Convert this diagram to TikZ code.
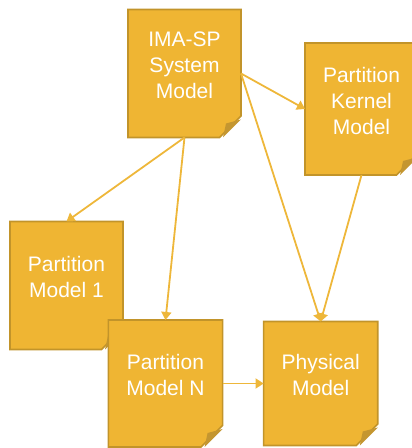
\documentclass[tikz,border=0pt]{standalone}
\usepackage{fontspec}
\setmainfont{Liberation Sans}
\usepackage{tikz}
\usetikzlibrary{calc,positioning,arrows.meta,shapes.misc}
\definecolor{notefill}{RGB}{239,181,51}
\definecolor{noteedge}{RGB}{194,148,42}
\definecolor{notefold}{RGB}{196,150,48}
\definecolor{linkcol}{RGB}{238,183,58}
\tikzset{
  line/.style={-{Triangle[length=8pt,width=10pt]}, draw=linkcol, line width=1.8pt},
  note/.style={chamfered rectangle, chamfered rectangle corners=south east,
    chamfered rectangle xsep=18pt, fill=notefill, draw=noteedge, line width=1.6pt,
    minimum width=113pt, minimum height=128pt, inner sep=0pt, outer sep=0pt,
    text=white, align=center, text depth=17pt,
    font=\fontsize{21}{26}\selectfont}
}
% folded corner of a note
\newcommand{\notefold}[1]{%
  \fill[notefold] ($(#1.south -| #1.east)+(-18pt,0)$) -- ($(#1.south -| #1.east)+(0,18pt)$)
    -- ($(#1.south -| #1.east)+(-15pt,14pt)$) -- cycle;}

\begin{document}
\begin{tikzpicture}[x=1pt,y=1pt]
  \useasboundingbox (0,0) rectangle (412,448);
  \node[note] (ima) at (184.5,374.5) {IMA-SP\\System\\Model};
  \notefold{ima}
  \node[note, minimum width=110pt, minimum height=132pt, right=64pt of ima, yshift=-35.5pt] (kernel) {Partition\\Kernel\\Model};
  \notefold{kernel}
  \node[note] (pm1) at (66.5,162.5) {Partition\\Model 1};
  \notefold{pm1}
  \node[note, minimum height=127pt] (pmN) at (165.5,64.5) {Partition\\Model N};
  \notefold{pmN}
  \node[note, minimum height=124pt, right=41pt of pmN] (phys) {Physical\\Model};
  \notefold{phys}
  % links
  \draw[line] (ima.east) -- (kernel.west);
  \draw[line] (ima.east) -- (phys.north);
  \draw[line] (kernel.south) -- (phys.north);
  \draw[line] (ima.south) -- (pm1.north);
  \draw[line] (ima.south) -- (pmN.north);
  \draw[line] (pmN.east) -- (phys.west);
\end{tikzpicture}
\end{document}
